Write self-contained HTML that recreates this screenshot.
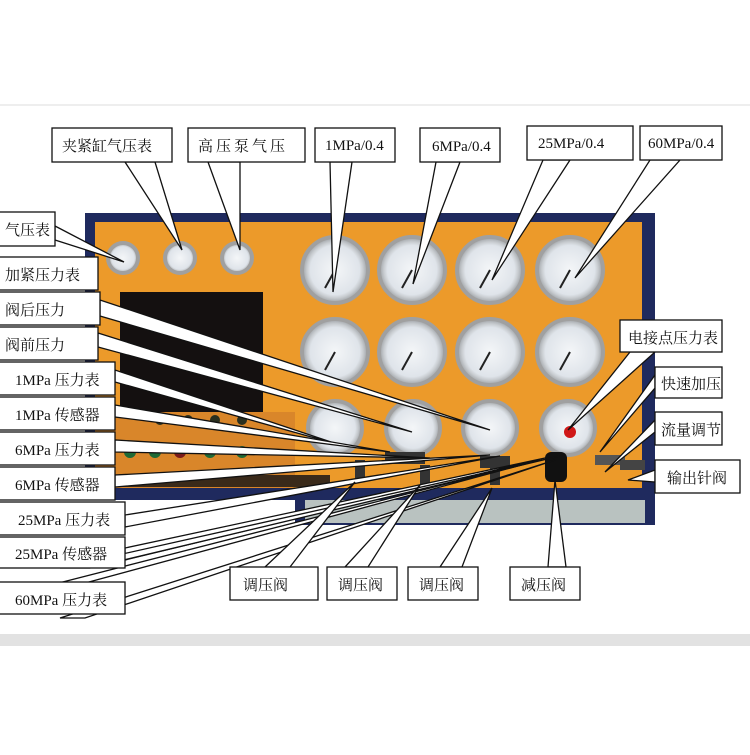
<!DOCTYPE html>
<html><head><meta charset="utf-8"><style>
body{margin:0;background:#fff;}
svg text{font-family:"Liberation Serif","Noto Serif CJK SC",serif;font-size:15px;fill:#111;}
</style></head><body>
<svg width="750" height="750" viewBox="0 0 750 750" xmlns="http://www.w3.org/2000/svg">
<defs>
<radialGradient id="g" cx="50%" cy="50%" r="50%">
<stop offset="0" stop-color="#f4f6f8"/><stop offset="0.75" stop-color="#dfe4ea"/><stop offset="0.85" stop-color="#c8ccd0"/><stop offset="1" stop-color="#9a9ea2"/></radialGradient>
</defs>
<rect width="750" height="750" fill="#fff"/>
<rect x="0" y="104" width="750" height="2" fill="#eee"/>
<rect x="0" y="634" width="750" height="12" fill="#e2e2e2"/>
<!-- panel -->
<rect x="85" y="213" width="570" height="287" fill="#1f2a5e"/>
<rect x="95" y="222" width="547" height="266" fill="#ec9a2a"/>
<rect x="295" y="500" width="360" height="25" fill="#1f2a5e"/>
<rect x="305" y="500" width="340" height="23" fill="#b9c2c0"/>
<rect x="120" y="292" width="143" height="120" fill="#141010"/>
<rect x="95" y="412" width="200" height="76" fill="#d9862a"/>
<!-- buttons -->
<g fill="#2a3020"><circle cx="160" cy="420" r="5"/><circle cx="188" cy="420" r="5"/><circle cx="215" cy="420" r="5"/><circle cx="242" cy="420" r="5"/>
<circle cx="130" cy="452" r="6" fill="#1e6a36"/><circle cx="155" cy="452" r="6" fill="#1e6a36"/><circle cx="180" cy="452" r="6" fill="#7a1a1a"/><circle cx="210" cy="452" r="6" fill="#1e6a36"/><circle cx="242" cy="452" r="6" fill="#1e6a36"/></g>
<rect x="100" y="475" width="230" height="12" fill="#3a2a1a"/>
<!-- gauges -->
<g stroke="#a0a0a0" stroke-width="4" fill="url(#g)">
<circle cx="123" cy="258" r="15"/><circle cx="180" cy="258" r="15"/><circle cx="237" cy="258" r="15"/>
<circle cx="335" cy="270" r="33"/><circle cx="412" cy="270" r="33"/><circle cx="490" cy="270" r="33"/><circle cx="570" cy="270" r="33"/>
<circle cx="335" cy="352" r="33"/><circle cx="412" cy="352" r="33"/><circle cx="490" cy="352" r="33"/><circle cx="570" cy="352" r="33"/>
<circle cx="335" cy="428" r="27"/><circle cx="413" cy="428" r="27"/><circle cx="490" cy="428" r="27"/><circle cx="568" cy="428" r="27"/>
</g>
<circle cx="570" cy="432" r="6" fill="#d01818"/>
<g stroke="#222" stroke-width="2">
<line x1="335" y1="270" x2="325" y2="288"/><line x1="412" y1="270" x2="402" y2="288"/><line x1="490" y1="270" x2="480" y2="288"/><line x1="570" y1="270" x2="560" y2="288"/>
<line x1="335" y1="352" x2="325" y2="370"/><line x1="412" y1="352" x2="402" y2="370"/><line x1="490" y1="352" x2="480" y2="370"/><line x1="570" y1="352" x2="560" y2="370"/>
</g>
<!-- valves -->
<g fill="#333"><rect x="385" y="452" width="40" height="12"/><rect x="480" y="456" width="30" height="12"/><rect x="545" y="452" width="22" height="30" rx="6" fill="#111"/><rect x="595" y="455" width="30" height="10" fill="#555"/><rect x="620" y="460" width="25" height="10" fill="#444"/>
<rect x="355" y="460" width="10" height="20"/><rect x="420" y="465" width="10" height="20"/><rect x="490" y="465" width="10" height="20"/></g>
<!-- callout wedges -->
<g fill="#fff" stroke="#111" stroke-width="1.3">
<polygon points="125,162 155,162 182,250"/>
<polygon points="208,162 240,162 240,250"/>
<polygon points="330,162 352,162 333,292"/>
<polygon points="436,162 460,162 413,284"/>
<polygon points="543,160 570,160 492,280"/>
<polygon points="650,160 680,160 575,278"/>
<polygon points="55,226 55,240 124,262"/>
<polygon points="100,300 100,316 490,430"/>
<polygon points="98,333 98,347 412,432"/>
<polygon points="115,370 115,382 340,445"/>
<polygon points="115,405 115,417 390,452"/>
<polygon points="115,440 115,452 430,458"/>
<polygon points="115,475 115,487 490,455"/>
<polygon points="125,515 125,527 500,456"/>
<polygon points="125,548 125,560 545,458"/>
<polygon points="60,568 90,568 560,456"/>
<polygon points="60,618 85,618 555,460"/>
<polygon points="0,598 0,606 540,460"/>
<polygon points="265,567 290,567 355,482"/>
<polygon points="345,567 368,567 420,485"/>
<polygon points="440,567 462,567 492,488"/>
<polygon points="548,567 566,567 555,480"/>
<polygon points="630,352 655,352 568,430"/>
<polygon points="655,375 655,388 600,452"/>
<polygon points="655,420 655,432 605,472"/>
<polygon points="655,470 655,482 628,480"/>
</g>
<!-- label boxes -->
<g fill="#fff" stroke="#111" stroke-width="1.3">
<rect x="52" y="128" width="120" height="34"/>
<rect x="188" y="128" width="117" height="34"/>
<rect x="315" y="128" width="80" height="34"/>
<rect x="420" y="128" width="80" height="34"/>
<rect x="527" y="126" width="106" height="34"/>
<rect x="640" y="126" width="82" height="34"/>
<rect x="-2" y="212" width="57" height="34"/>
<rect x="-2" y="257" width="100" height="33"/>
<rect x="-2" y="292" width="102" height="33"/>
<rect x="-2" y="327" width="100" height="33"/>
<rect x="-2" y="362" width="117" height="33"/>
<rect x="-2" y="397" width="117" height="33"/>
<rect x="-2" y="432" width="117" height="33"/>
<rect x="-2" y="467" width="117" height="33"/>
<rect x="-2" y="502" width="127" height="33"/>
<rect x="-2" y="537" width="127" height="31"/>
<rect x="-2" y="582" width="127" height="32"/>
<rect x="620" y="320" width="102" height="32"/>
<rect x="655" y="367" width="67" height="31"/>
<rect x="655" y="412" width="67" height="33"/>
<rect x="655" y="460" width="85" height="33"/>
<rect x="230" y="567" width="88" height="33"/>
<rect x="327" y="567" width="70" height="33"/>
<rect x="408" y="567" width="70" height="33"/>
<rect x="510" y="567" width="70" height="33"/>
</g>
<g>
<text x="62" y="151" font-size="17">夹紧缸气压表</text>
<text x="198" y="151" font-size="17" letter-spacing="3">高压泵气压</text>
<text x="325" y="150">1MPa/0.4</text>
<text x="432" y="151">6MPa/0.4</text>
<text x="538" y="148">25MPa/0.4</text>
<text x="648" y="148">60MPa/0.4</text>
<text x="5" y="235">气压表</text>
<text x="5" y="280">加紧压力表</text>
<text x="5" y="315">阀后压力</text>
<text x="5" y="350">阀前压力</text>
<text x="15" y="385">1MPa 压力表</text>
<text x="15" y="420">1MPa 传感器</text>
<text x="15" y="455">6MPa 压力表</text>
<text x="15" y="490">6MPa 传感器</text>
<text x="18" y="525">25MPa 压力表</text>
<text x="15" y="559">25MPa 传感器</text>
<text x="15" y="605">60MPa 压力表</text>
<text x="628" y="343">电接点压力表</text>
<text x="661" y="389" font-size="14">快速加压</text>
<text x="661" y="435" font-size="14">流量调节</text>
<text x="667" y="483">输出针阀</text>
<text x="243" y="590">调压阀</text>
<text x="338" y="590">调压阀</text>
<text x="419" y="590">调压阀</text>
<text x="521" y="590">减压阀</text>
</g>
</svg>
</body></html>
